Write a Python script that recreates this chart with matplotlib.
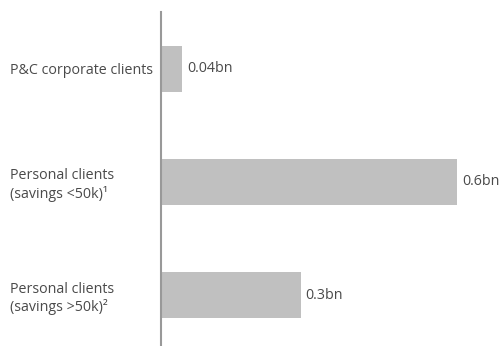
import matplotlib
matplotlib.use("Agg")
import matplotlib.pyplot as plt

categories = ["P&C corporate clients",
              "Personal clients\n(savings <50k)\u00b9",
              "Personal clients\n(savings >50k)\u00b2"]
values = [0.043, 0.6, 0.283]
value_labels = ["0.04bn", "0.6bn", "0.3bn"]

plt.rcParams['font.family'] = ['Open Sans', 'DejaVu Sans']

W, H = 502, 346
FS = 10.3
fig = plt.figure(figsize=(W / 100, H / 100), dpi=100)
ax = fig.add_axes([161 / W, 0, 1 - 161 / W, (346 - 12) / H])

pos = list(range(len(categories)))
ax.barh(pos, values, height=0.407, color="#c0c0c0", edgecolor="none")
ax.set_xlim(0, 0.6 * 341 / 296)
ax.set_ylim(2.451, -0.504)

for p, v, lab in zip(pos, values, value_labels):
    ax.annotate(lab, (v, p), xytext=(3.5, 0), textcoords="offset points",
                ha="left", va="center", fontsize=FS, color="#4a4a4a")

ax.set_yticks(pos)
ax.set_yticklabels(categories, fontsize=FS, color="#4a4a4a", ha="left",
                   linespacing=1.2)
# left edge of the labels sits ~10 px from the figure edge
ax.tick_params(axis="y", length=0, pad=(161 - 10) * 72 / 100)
ax.set_xticks([])
for s in ["top", "right", "bottom"]:
    ax.spines[s].set_visible(False)
ax.spines["left"].set_color("#999999")
ax.spines["left"].set_linewidth(1.5)

fig.savefig("out.png", dpi=100)
